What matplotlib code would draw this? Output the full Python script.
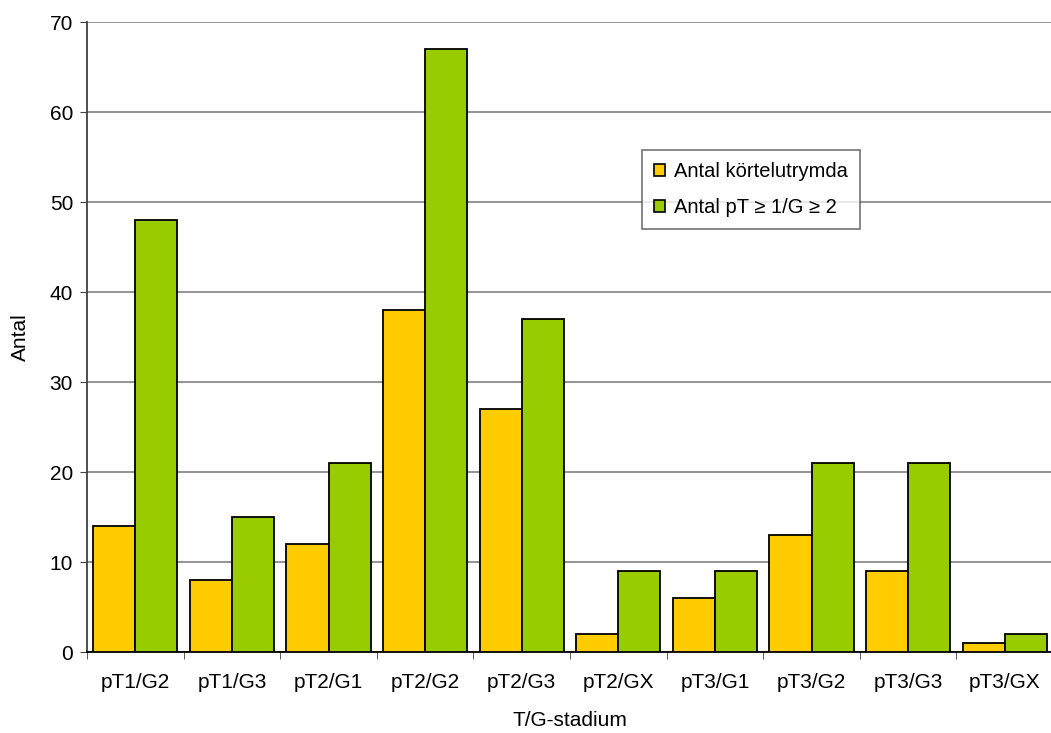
import matplotlib
matplotlib.use("Agg")
import matplotlib.pyplot as plt
import numpy as np
from matplotlib.patches import Patch

plt.rcParams['font.family'] = ['Liberation Sans', 'DejaVu Sans']

categories = ["pT1/G2", "pT1/G3", "pT2/G1", "pT2/G2", "pT2/G3",
              "pT2/GX", "pT3/G1", "pT3/G2", "pT3/G3", "pT3/GX"]
kortelutrymda = [14, 8, 12, 38, 27, 2, 6, 13, 9, 1]
pt_g = [48, 15, 21, 67, 37, 9, 9, 21, 21, 2]
series_names = ["Antal körtelutrymda", "Antal pT \u2265 1/G \u2265 2"]

W, H = 1051, 733
fig = plt.figure(figsize=(W / 100, H / 100), dpi=100)
ax = fig.add_axes([87 / W, (H - 652) / H, 966 / W, 630 / H])

x = np.arange(len(categories))
bw = 0.435
ax.bar(x - bw / 2, kortelutrymda, width=bw, color="#FFCC00",
       edgecolor="black", linewidth=1.3, zorder=3)
ax.bar(x + bw / 2, pt_g, width=bw, color="#99CC00",
       edgecolor="black", linewidth=1.3, zorder=3)

ax.set_xlim(-0.5, len(categories) - 0.5)
ax.set_ylim(0, 70)
ax.set_yticks(np.arange(0, 71, 10))
ax.yaxis.grid(True, color="#808080", linewidth=1.2, zorder=0)
ax.set_axisbelow(True)

fs = 15
ax.set_xticks(x)
ax.set_xticklabels(categories, fontsize=fs)
ax.set_xticks(np.arange(-0.5, len(categories), 1), minor=True)
ax.tick_params(axis="x", which="major", length=0, pad=15)
ax.tick_params(axis="x", which="minor", length=5, color="#404040", direction="out")
ax.tick_params(axis="y", length=5, color="#404040", labelsize=fs, pad=5)

for s in ["top", "right"]:
    ax.spines[s].set_visible(False)
ax.spines["left"].set_color("#404040")
ax.spines["left"].set_linewidth(1.3)
ax.spines["bottom"].set_color("black")
ax.spines["bottom"].set_linewidth(1.3)

ax.set_xlabel("T/G-stadium", fontsize=fs, labelpad=14)
ax.set_ylabel("Antal", fontsize=fs, labelpad=14)

handles = [Patch(facecolor="#FFCC00", edgecolor="black", linewidth=1.2),
           Patch(facecolor="#99CC00", edgecolor="black", linewidth=1.2)]
leg = ax.legend(handles, series_names, loc="upper left",
                bbox_to_anchor=((642 - 87) / 966, (652 - 150) / 630),
                fontsize=14.5, frameon=True, fancybox=False,
                handlelength=0.55, handleheight=0.55, handletextpad=0.45,
                labelspacing=0.85, borderpad=0.6, borderaxespad=0)
leg.get_frame().set_edgecolor("#505050")
leg.get_frame().set_linewidth(1.2)
leg.set_zorder(5)

fig.savefig("out.png", dpi=100)
